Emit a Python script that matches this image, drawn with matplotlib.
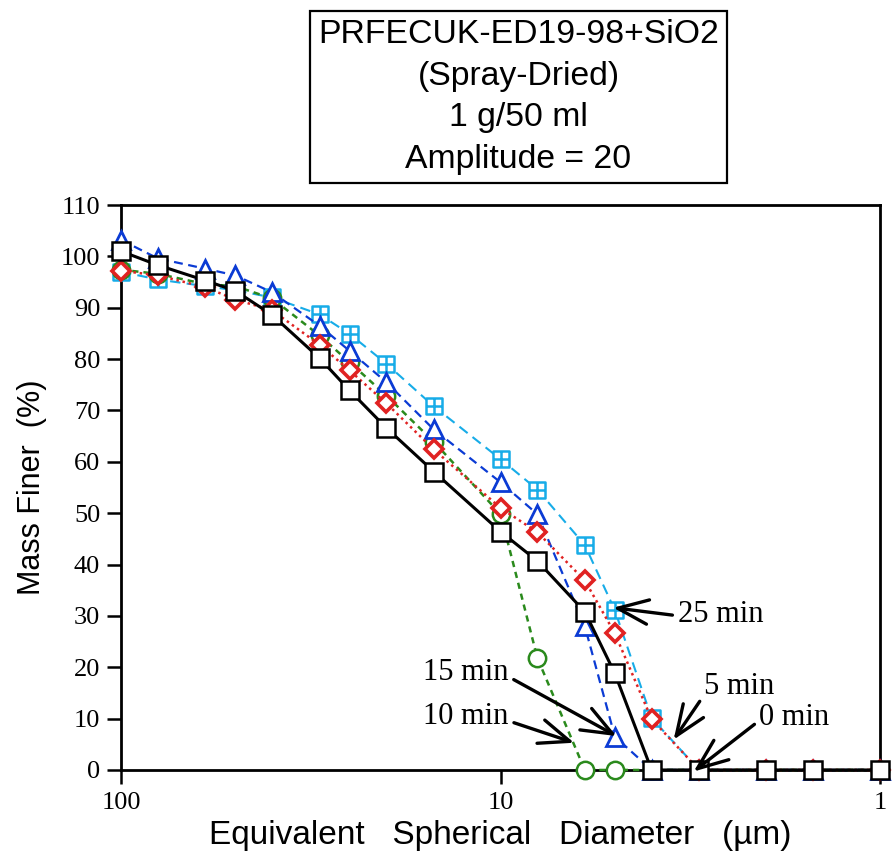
import matplotlib
matplotlib.use("Agg")
import matplotlib.pyplot as plt
from matplotlib.path import Path
from matplotlib.ticker import NullLocator

# particle size (um) and mass finer (%) for each sonication time
diameter = [100, 80, 60, 50, 40, 30, 25, 20, 15, 10, 8, 6, 5, 4, 3, 2, 1.5, 1]

finer_0 = [101.0, 98.3, 95.3, 93.3, 88.6, 80.2, 73.9, 66.6, 58.1, 46.4, 40.7, 30.8, 18.8, 0, 0, 0, 0, 0]
finer_5 = [97.2, 96.3, 94.0, 91.6, 89.5, 82.8, 77.8, 71.4, 62.4, 51.0, 46.3, 36.9, 26.6, 9.9, 0, 0, 0, 0]
finer_10 = [97.4, 96.6, 94.6, 94.2, 91.8, 84.6, 79.4, 72.9, 63.9, 49.8, 21.8, 0, 0, 0, 0, 0, 0, 0]
finer_15 = [103.2, 99.6, 97.6, 96.3, 93.0, 86.5, 81.6, 75.5, 66.3, 56.0, 49.8, 28.0, 6.5, 0, 0, 0, 0, 0]
finer_25 = [97.0, 95.5, 94.2, 93.4, 92.0, 88.7, 84.9, 79.1, 70.8, 60.5, 54.6, 43.8, 31.1, 10.1, 0, 0, 0, 0]

# annotation labels: (text, arrow tip, text position, relpos of arrow start)
note_text = ["25 min", "5 min", "0 min", "15 min", "10 min"]
note_tip = [(5.05, 31.6), (3.5, 5.9), (3.1, -0.3), (4.95, 6.6), (6.4, 5.3)]
note_pos = [(3.41, 30.3), (2.91, 16.3), (2.08, 10.2), (9.53, 19.0), (9.53, 10.4)]
note_ha = ["left", "left", "left", "right", "right"]
note_rel = [(0, 0.45), (0, 0.2), (0, 0.4), (1, 0.35), (1, 0.35)]

# square with a cross inside
boxplus = Path(
    [(-1, -1), (1, -1), (1, 1), (-1, 1), (-1, -1), (0, -1), (0, 1), (-1, 0), (1, 0)],
    [Path.MOVETO, Path.LINETO, Path.LINETO, Path.LINETO, Path.CLOSEPOLY,
     Path.MOVETO, Path.LINETO, Path.MOVETO, Path.LINETO],
)

fig = plt.figure(figsize=(8.92, 8.56), dpi=100)
ax = fig.add_axes([0.1357, 0.1005, 0.851, 0.660])

ax.plot(diameter, finer_25, color="#17ace8", linestyle=(0, (5, 3)), lw=1.5,
        marker=boxplus, ms=12, mfc="white", mec="#17ace8", mew=1.8, zorder=3, clip_on=False)
ax.plot(diameter, finer_10, color="#2a8a1c", linestyle=(0, (2.5, 2)), lw=1.8,
        marker="o", ms=12.5, mfc="white", mec="#2a8a1c", mew=1.8, zorder=3.1, clip_on=False)
ax.plot(diameter, finer_15, color="#0b3bd4", linestyle=(0, (4, 2.5)), lw=1.6,
        marker="^", ms=13, mfc="white", mec="#0b3bd4", mew=2.0, zorder=3.2, clip_on=False)
ax.plot(diameter, finer_5, color="#e02222", linestyle=(0, (1, 1.5)), lw=1.8,
        marker="D", ms=9.5, mfc="white", mec="#e02222", mew=2.6, zorder=3.3, clip_on=False)
ax.plot(diameter, finer_0, color="black", linestyle="-", lw=2.2,
        marker="s", ms=13.5, mfc="white", mec="black", mew=1.8, zorder=3.4, clip_on=False)

ax.set_xscale("log")
ax.set_xlim(100, 1)
ax.set_ylim(0, 110)
ax.set_xticks([100, 10, 1])
ax.set_xticklabels(["100", "10", "1"])
ax.xaxis.set_minor_locator(NullLocator())
ax.set_yticks(range(0, 111, 10))

for side in ["left", "bottom", "top", "right"]:
    ax.spines[side].set_linewidth(2)
ax.tick_params(axis="both", direction="out", length=10, width=1.8, labelsize=19,
               top=False, right=False)
ax.tick_params(axis="y", pad=5)
ax.tick_params(axis="x", pad=6)
for lab in ax.get_xticklabels() + ax.get_yticklabels():
    lab.set_family("Liberation Serif")

ax.set_xlabel("Equivalent   Spherical   Diameter   (\u00b5m)", fontsize=24,
              family="Liberation Sans", labelpad=4)
ax.set_ylabel("Mass Finer  (%)", fontsize=22, family="Liberation Sans", labelpad=10)

for txt, tip, pos, ha, rel in zip(note_text, note_tip, note_pos, note_ha, note_rel):
    ax.annotate(txt, xy=tip, xytext=pos, ha=ha, va="center", fontsize=22,
                family="Liberation Serif", zorder=7, annotation_clip=False,
                arrowprops=dict(arrowstyle="->,head_length=1.0,head_width=0.4",
                                lw=2.4, color="black", relpos=rel, shrinkA=2, shrinkB=0))

fig.text(0.5813, 0.8867, "PRFECUK-ED19-98+SiO2\n(Spray-Dried)\n1 g/50 ml\nAmplitude = 20",
         ha="center", va="center", fontsize=24.3, family="Liberation Sans", linespacing=1.45,
         bbox=dict(boxstyle="square,pad=0.24", fc="white", ec="black", lw=1.6))

fig.savefig("out.png", dpi=100)
